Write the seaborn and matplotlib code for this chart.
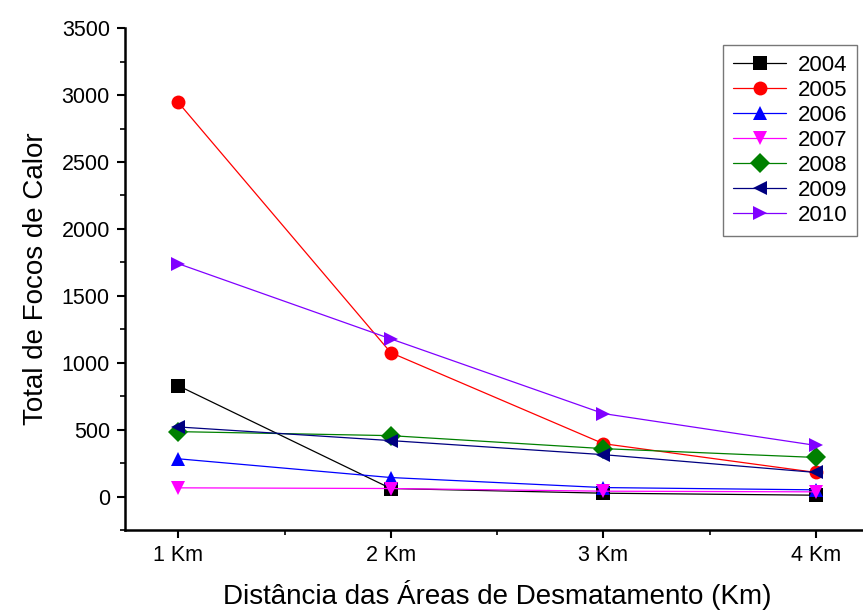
import matplotlib
matplotlib.use("Agg")
import matplotlib.pyplot as plt
import pandas as pd
import seaborn as sns
from matplotlib.ticker import MultipleLocator

sns.set_style("ticks")
plt.rcParams['font.family'] = ['Liberation Sans', 'DejaVu Sans']
plt.rcParams['text.color'] = 'black'
plt.rcParams['axes.labelcolor'] = 'black'
plt.rcParams['xtick.color'] = 'black'
plt.rcParams['ytick.color'] = 'black'
plt.rcParams['axes.edgecolor'] = 'black'

# data
distances = ['1 Km', '2 Km', '3 Km', '4 Km']
years = ['2004', '2005', '2006', '2007', '2008', '2009', '2010']
v2004 = [828, 60, 25, 10]
v2005 = [2945, 1075, 395, 180]
v2006 = [282, 142, 67, 50]
v2007 = [65, 60, 40, 35]
v2008 = [485, 455, 358, 292]
v2009 = [520, 418, 313, 180]
v2010 = [1740, 1178, 620, 382]

values = [v2004, v2005, v2006, v2007, v2008, v2009, v2010]
rows = []
for y, vals in zip(years, values):
    for i, v in enumerate(vals):
        rows.append({'x': i + 1, 'year': y, 'focos': v})
df = pd.DataFrame(rows)

palette = {'2004': 'black', '2005': '#ff0000', '2006': '#0000ff', '2007': '#ff00ff',
           '2008': '#008000', '2009': '#000080', '2010': '#8000ff'}
markers = {'2004': 's', '2005': 'o', '2006': '^', '2007': 'v',
           '2008': 'D', '2009': '<', '2010': '>'}

fig = plt.figure(figsize=(8.63, 6.12), dpi=100)
ax = fig.add_axes([0.145, 0.134, 0.862, 0.82])

sns.lineplot(df, x='x', y='focos', hue='year', style='year', palette=palette,
             markers=markers, dashes=False, linewidth=0.9, markersize=10,
             markeredgewidth=0, ax=ax)

ax.set_xlim(0.75, 4.25)
ax.set_ylim(-250, 3500)
ax.set_xticks([1, 2, 3, 4])
ax.set_xticklabels(distances)
ax.xaxis.set_minor_locator(MultipleLocator(0.5))
ax.yaxis.set_minor_locator(MultipleLocator(250))
ax.set_yticks(range(0, 3501, 500))
ax.tick_params(which='major', direction='out', length=6, width=1.5, labelsize=15.5, pad=5)
ax.tick_params(which='minor', direction='out', length=3.5, width=1.2)

for s in ['top', 'right']:
    ax.spines[s].set_visible(False)
for s in ['left', 'bottom']:
    ax.spines[s].set_linewidth(1.8)

ax.set_xlabel('Distância das Áreas de Desmatamento (Km)', fontsize=20, labelpad=10)
ax.set_ylabel('Total de Focos de Calor', fontsize=20, labelpad=9)

leg = ax.legend(loc='upper right', bbox_to_anchor=(0.993, 0.98), fontsize=16,
                frameon=True, fancybox=False, edgecolor='#555555',
                handlelength=2.4, labelspacing=0.18, borderpad=0.45,
                handletextpad=0.5, borderaxespad=0.3)
leg.get_frame().set_linewidth(1.0)

plt.savefig('out.png', dpi=100)
